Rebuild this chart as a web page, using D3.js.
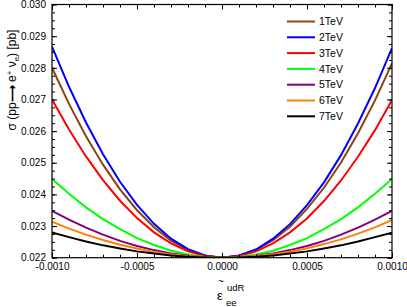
<!DOCTYPE html>
<html>
<head>
<meta charset="utf-8">
<script src="https://cdn.jsdelivr.net/npm/d3@7"></script>
<style>
  body { margin: 0; background: #fff; }
  svg { display: block; font-family: "Liberation Sans", Arial, sans-serif; }
</style>
</head>
<body>
<div id="chart"></div>
<script>
// x grid of the curves
const eps = [-0.0010, -0.0009, -0.0008, -0.0007, -0.0006, -0.0005, -0.0004, -0.0003, -0.0002, -0.0001, 0,
             0.0001, 0.0002, 0.0003, 0.0004, 0.0005, 0.0006, 0.0007, 0.0008, 0.0009, 0.0010];

const names = ["1TeV", "2TeV", "3TeV", "4TeV", "5TeV", "6TeV", "7TeV"];
const colors = ["#8B4513", "#0000FF", "#FF0000", "#00FF00", "#800080", "#FF8000", "#000000"];

const tev1 = [0.02800, 0.02686, 0.02584, 0.02494, 0.02416, 0.02350, 0.02296, 0.02254, 0.02224, 0.02206, 0.02200,
              0.02206, 0.02225, 0.02255, 0.02298, 0.02354, 0.02421, 0.02501, 0.02593, 0.02697, 0.02814];
const tev2 = [0.02867, 0.02740, 0.02627, 0.02527, 0.02440, 0.02367, 0.02307, 0.02260, 0.02227, 0.02207, 0.02200,
              0.02207, 0.02226, 0.02260, 0.02306, 0.02366, 0.02438, 0.02524, 0.02624, 0.02736, 0.02862];
const tev3 = [0.02700, 0.02605, 0.02520, 0.02445, 0.02380, 0.02325, 0.02280, 0.02245, 0.02220, 0.02205, 0.02200,
              0.02205, 0.02220, 0.02245, 0.02280, 0.02324, 0.02379, 0.02444, 0.02519, 0.02603, 0.02698];
const tev4 = [0.02449, 0.02402, 0.02359, 0.02322, 0.02290, 0.02262, 0.02240, 0.02222, 0.02210, 0.02202, 0.02200,
              0.02202, 0.02210, 0.02222, 0.02240, 0.02262, 0.02290, 0.02322, 0.02359, 0.02402, 0.02449];
const tev5 = [0.02348, 0.02320, 0.02295, 0.02273, 0.02253, 0.02237, 0.02224, 0.02213, 0.02206, 0.02201, 0.02200,
              0.02201, 0.02206, 0.02213, 0.02224, 0.02237, 0.02253, 0.02273, 0.02295, 0.02320, 0.02348];
const tev6 = [0.02314, 0.02292, 0.02273, 0.02256, 0.02241, 0.02229, 0.02218, 0.02210, 0.02205, 0.02201, 0.02200,
              0.02201, 0.02205, 0.02211, 0.02219, 0.02230, 0.02243, 0.02258, 0.02276, 0.02296, 0.02319];
const tev7 = [0.02280, 0.02265, 0.02251, 0.02239, 0.02229, 0.02220, 0.02213, 0.02207, 0.02203, 0.02201, 0.02200,
              0.02201, 0.02203, 0.02207, 0.02213, 0.02220, 0.02229, 0.02239, 0.02251, 0.02265, 0.02279];
const series = [tev1, tev2, tev3, tev4, tev5, tev6, tev7];

const xTicks = [-0.0010, -0.0005, 0, 0.0005, 0.0010];
const yTicks = [0.022, 0.023, 0.024, 0.025, 0.026, 0.027, 0.028, 0.029, 0.030];

const width = 407;
const height = 307;
const margin = {top: 4.5, right: 15, bottom: 49.3, left: 52};

const x = d3.scaleLinear()
    .domain([-0.001, 0.001])
    .range([margin.left, width - margin.right]);

const y = d3.scaleLinear()
    .domain([0.022, 0.030])
    .range([height - margin.bottom, margin.top]);

const svg = d3.select('#chart')
    .append('svg')
    .attr('width', width)
    .attr('height', height);

// clip so curves stay in the frame
svg.append('clipPath').attr('id', 'clip')
  .append('rect')
    .attr('x', margin.left).attr('y', margin.top)
    .attr('width', x.range()[1] - margin.left)
    .attr('height', y.range()[0] - margin.top);

const line = d3.line()
    .x((d, i) => x(eps[i]))
    .y(d => y(d));

svg.append('g').attr('clip-path', 'url(#clip)')
  .selectAll('path')
  .data(series)
  .join('path')
    .attr('d', line)
    .attr('fill', 'none')
    .attr('stroke', (d, i) => colors[i])
    .attr('stroke-width', 2);

// minor ticks
const xMinor = d3.range(-10, 11).map(k => k * 0.0001);
const yMinor = d3.range(0, 33).map(k => 0.022 + k * 0.00025);

function axisStyle(g) {
  g.select('.domain').remove();
  g.selectAll('line').attr('stroke', '#000').attr('stroke-width', 1);
  g.selectAll('text').attr('font-size', 10).attr('fill', '#000');
}

const yb = y.range()[0];
const xr = x.range()[1];

svg.append('g').attr('transform', `translate(0,${yb})`)
  .call(d3.axisBottom(x).tickValues(xMinor).tickSize(-3).tickFormat(''))
  .call(axisStyle);
svg.append('g').attr('transform', `translate(0,${yb})`)
  .call(d3.axisBottom(x).tickValues(xTicks).tickSize(-5).tickPadding(5)
        .tickFormat(d => d.toFixed(4)))
  .call(axisStyle);
svg.append('g').attr('transform', `translate(0,${margin.top})`)
  .call(d3.axisTop(x).tickValues(xMinor).tickSize(-3).tickFormat(''))
  .call(axisStyle);
svg.append('g').attr('transform', `translate(0,${margin.top})`)
  .call(d3.axisTop(x).tickValues(xTicks).tickSize(-5).tickFormat(''))
  .call(axisStyle);

svg.append('g').attr('transform', `translate(${margin.left},0)`)
  .call(d3.axisLeft(y).tickValues(yMinor).tickSize(-3).tickFormat(''))
  .call(axisStyle);
svg.append('g').attr('transform', `translate(${margin.left},0)`)
  .call(d3.axisLeft(y).tickValues(yTicks).tickSize(-5).tickPadding(6)
        .tickFormat(d => d.toFixed(3)))
  .call(axisStyle);
svg.append('g').attr('transform', `translate(${xr},0)`)
  .call(d3.axisRight(y).tickValues(yMinor).tickSize(-3).tickFormat(''))
  .call(axisStyle);
svg.append('g').attr('transform', `translate(${xr},0)`)
  .call(d3.axisRight(y).tickValues(yTicks).tickSize(-5).tickFormat(''))
  .call(axisStyle);

// frame
svg.append('rect')
    .attr('x', margin.left).attr('y', margin.top)
    .attr('width', xr - margin.left).attr('height', yb - margin.top)
    .attr('fill', 'none').attr('stroke', '#000').attr('stroke-width', 1.2);

// legend
const legend = svg.append('g').attr('transform', 'translate(287,21.5)');
const item = legend.selectAll('g')
  .data(names)
  .join('g')
    .attr('transform', (d, i) => `translate(0,${i * 15.8})`);
item.append('line')
    .attr('x1', 0).attr('x2', 28)
    .attr('stroke', (d, i) => colors[i])
    .attr('stroke-width', 2);
item.append('text')
    .attr('x', 32).attr('dy', '0.35em')
    .attr('font-size', 10.5)
    .text(d => d);

// y axis title
const yt = svg.append('text')
    .attr('transform', 'translate(16,80) rotate(-90)')
    .attr('text-anchor', 'middle')
    .attr('font-size', 12);
yt.append('tspan').text('σ (pp');
yt.append('tspan').attr('font-weight', 'bold').text('⟶');
yt.append('tspan').text(' e');
yt.append('tspan').attr('dy', -4).attr('font-size', 8).text('+');
yt.append('tspan').attr('dy', 4).text(' ν');
yt.append('tspan').attr('dy', 3).attr('font-size', 8).text('e');
yt.append('tspan').attr('dy', -3).text(') [pb]');

// x axis title
svg.append('text').attr('x', 221).attr('y', 285)
    .attr('text-anchor', 'middle').attr('font-size', 10).text('~');
svg.append('text').attr('x', 220).attr('y', 300)
    .attr('text-anchor', 'middle').attr('font-size', 13).text('ε');
svg.append('text').attr('x', 227).attr('y', 291)
    .attr('font-size', 9.5).text('udR');
svg.append('text').attr('x', 226).attr('y', 306)
    .attr('font-size', 9.5).text('ee');
</script>
</body>
</html>
